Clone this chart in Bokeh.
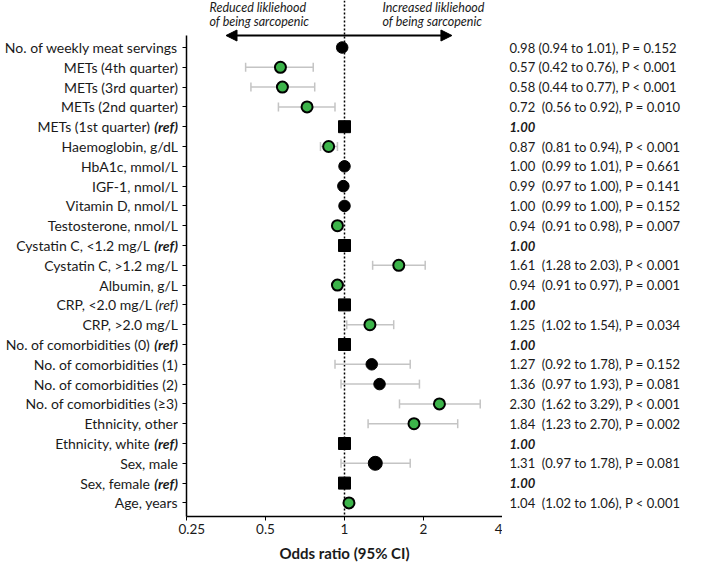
from bokeh.plotting import figure
from bokeh.layouts import row
from bokeh.models import (ColumnDataSource, Label, Whisker, TeeHead, Span, Arrow, NormalHead,
                          FixedTicker, Range1d, CustomLabelingPolicy)
from bokeh.core.properties import value
from bokeh.embed import file_html
from bokeh.resources import INLINE

# ---------------- data ----------------
labels = ["No. of weekly meat servings", "METs (4th quarter)", "METs (3rd quarter)",
          "METs (2nd quarter)", "METs (1st quarter)", "Haemoglobin, g/dL", "HbA1c, mmol/L",
          "IGF-1, nmol/L", "Vitamin D, nmol/L", "Testosterone, nmol/L", "Cystatin C, <1.2 mg/L",
          "Cystatin C, >1.2 mg/L", "Albumin, g/L", "CRP, <2.0 mg/L", "CRP, >2.0 mg/L",
          "No. of comorbidities (0)", "No. of comorbidities (1)", "No. of comorbidities (2)",
          "No. of comorbidities (\u22653)", "Ethnicity, other", "Ethnicity, white", "Sex, male",
          "Sex, female", "Age, years"]
odds = [0.98, 0.57, 0.58, 0.72, 1.00, 0.87, 1.00, 0.99, 1.00, 0.94, 1.00, 1.61, 0.94, 1.00,
        1.25, 1.00, 1.27, 1.36, 2.30, 1.84, 1.00, 1.31, 1.00, 1.04]
ci_low = [0.94, 0.42, 0.44, 0.56, None, 0.81, 0.99, 0.97, 0.99, 0.91, None, 1.28, 0.91, None,
          1.02, None, 0.92, 0.97, 1.62, 1.23, None, 0.97, None, 1.02]
ci_high = [1.01, 0.76, 0.77, 0.92, None, 0.94, 1.01, 1.00, 1.00, 0.98, None, 2.03, 0.97, None,
           1.54, None, 1.78, 1.93, 3.29, 2.70, None, 1.78, None, 1.06]
p_op = ["=", "<", "<", "=", None, "<", "=", "=", "=", "=", None, "<", "=", None,
        "=", None, "=", "=", "<", "=", None, "=", None, "<"]
p_val = ["0.152", "0.001", "0.001", "0.010", None, "0.001", "0.661", "0.141", "0.152", "0.007",
         None, "0.001", "0.001", None, "0.034", None, "0.152", "0.081", "0.001", "0.002", None,
         "0.081", None, "0.001"]
is_ref = [lo is None for lo in ci_low]
x_ticks = [0.25, 0.5, 1, 2, 4]
x_tick_labels = ["0.25", "0.5", "1", "2", "4"]
ref_tag = "(ref)"
ref_value = "1.00"
arrow_left_text = ["Reduced likliehood", "of being sarcopenic"]
arrow_right_text = ["Increased likliehood", "of being sarcopenic"]
x_title = "Odds ratio (95% CI)"

# ---------------- layout / style ----------------
W, H = 693, 566
WL = 178          # width of left label panel
AX = 8            # y-axis panel of the middle figure
PPD = 79          # px per doubling
WM = AX + 4 * PPD
WR = W - WL - WM
ROW0 = 47         # first row centre (px from top)
S = 19.8          # row spacing (px)
FB = 516          # frame bottom (px)
FONT = "Lato"
FS_L = "14px"
FS_R = "13px"
TXT = "#1a1a1a"
GREEN = "#3cb44a"
GREY = "#c4c4c4"
REFW = 28         # width reserved for " (ref)" (bold italic)
REFW_IT = 26      # width reserved for " (ref)" (italic)

n = len(labels)
y_end = (n - 1) + ROW0 / S
y_start = -(FB - (ROW0 + (n - 1) * S)) / S
def y_px(px):
    return y_end - px / S

ys = [n - 1 - i for i in range(n)]
yr = Range1d(y_start, y_end)

def side_fig(w):
    f = figure(width=w, height=H, x_range=Range1d(0, w), y_range=yr,
               x_axis_location=None, y_axis_location=None, min_border_left=0,
               min_border_right=0, min_border_top=0, min_border_bottom=H - FB,
               toolbar_location=None, output_backend="svg")
    f.outline_line_color = None
    f.grid.visible = False
    return f

# ---------------- middle (forest) figure ----------------
p = figure(width=WM, height=H, x_axis_type="log", x_range=Range1d(0.25, 4), y_range=yr,
           min_border_left=AX, min_border_right=0, min_border_top=0,
           min_border_bottom=H - FB, toolbar_location=None, output_backend="svg")
p.outline_line_color = None
p.grid.visible = False

xa = p.xaxis[0]
xa.ticker = FixedTicker(ticks=x_ticks)
xa.major_label_overrides = {t: l for t, l in zip(x_ticks, x_tick_labels)}
xa.minor_tick_line_color = None
xa.major_tick_out = 4
xa.major_tick_in = 0
xa.axis_line_width = 1.5
xa.axis_line_color = "black"
xa.major_tick_line_color = "black"
xa.major_label_text_font = FONT
xa.major_label_text_font_size = "13.5px"
xa.major_label_text_color = TXT
xa.major_label_standoff = 3
xa.axis_label = x_title
xa.axis_label_text_font = FONT
xa.axis_label_text_font_size = "15px"
xa.axis_label_text_font_style = "bold"
xa.axis_label_text_color = TXT
xa.axis_label_standoff = 7

ya = p.yaxis[0]
ya.ticker = FixedTicker(ticks=ys)
ya.major_label_text_font_size = "0px"
ya.major_label_policy = CustomLabelingPolicy(code="return []")
ya.major_label_standoff = 0
ya.minor_tick_line_color = None
ya.major_tick_out = 4
ya.major_tick_in = 0
ya.axis_line_width = 1.5
ya.axis_line_color = "black"
ya.major_tick_line_color = "black"
y_arrow = y_px(35)
ya.bounds = (y_start, y_arrow)

p.add_layout(Span(location=1, dimension="height", line_color="black", line_width=1.5,
                  line_dash="2 2", level="underlay"))
p.add_layout(Arrow(x_start=2 ** -1.5, x_end=2 ** 1.36, y_start=y_arrow, y_end=y_arrow,
                   line_width=2, line_color="black",
                   start=NormalHead(size=11, fill_color="black", line_color="black"),
                   end=NormalHead(size=11, fill_color="black", line_color="black")))
for k, t in enumerate(arrow_left_text):
    p.add_layout(Label(x=0.25, x_offset=23, y=y_px(7 + 14 * k), text=t, text_font=FONT,
                       text_font_size="12.5px", text_font_style="italic", text_color=TXT,
                       text_baseline="middle"))
for k, t in enumerate(arrow_right_text):
    p.add_layout(Label(x=1, x_offset=38, y=y_px(7 + 14 * k), text=t, text_font=FONT,
                       text_font_size="12.5px", text_font_style="italic", text_color=TXT,
                       text_baseline="middle"))

ci_idx = [i for i in range(n) if not is_ref[i]]
ci_src = ColumnDataSource(dict(y=[ys[i] for i in ci_idx], lo=[ci_low[i] for i in ci_idx],
                               hi=[ci_high[i] for i in ci_idx]))
p.add_layout(Whisker(source=ci_src, base="y", lower="lo", upper="hi", dimension="width",
                     line_color=GREY, line_width=1.5, level="underlay",
                     lower_head=TeeHead(size=9, line_color=GREY, line_width=1.5),
                     upper_head=TeeHead(size=9, line_color=GREY, line_width=1.5)))

sig = [i for i in ci_idx if float(p_val[i]) < 0.05]
ns = [i for i in ci_idx if float(p_val[i]) >= 0.05]
ref = [i for i in range(n) if is_ref[i]]
p.scatter(x=[odds[i] for i in sig], y=[ys[i] for i in sig], marker="circle", size=11,
          fill_color=GREEN, line_color="black", line_width=2)
p.scatter(x=[odds[i] for i in ns], y=[ys[i] for i in ns], marker="circle",
          size=[14 if labels[i] == "Sex, male" else 11.5 for i in ns],
          fill_color="black", line_color="black", line_width=1)
p.scatter(x=[odds[i] for i in ref], y=[ys[i] for i in ref], marker="square", size=12,
          fill_color="black", line_color="black", line_width=1)

# ---------------- left labels ----------------
left = side_fig(WL)
xl = WL - 0.5
crp_ref = [i for i in ref if labels[i].startswith("CRP")]
bold_ref = [i for i in ref if i not in crp_ref]
left.text(x=[xl] * len(ci_idx), y=[ys[i] for i in ci_idx], text=[labels[i] for i in ci_idx],
          text_align="right", text_baseline="middle", text_font=value(FONT),
          text_font_size=FS_L, text_color=TXT)
for idx, style, w in ((bold_ref, "bold italic", REFW), (crp_ref, "italic", REFW_IT)):
    left.text(x=[xl - w] * len(idx), y=[ys[i] for i in idx], text=[labels[i] for i in idx],
              text_align="right", text_baseline="middle", text_font=value(FONT),
              text_font_size=FS_L, text_color=TXT)
    left.text(x=[xl] * len(idx), y=[ys[i] for i in idx], text=[ref_tag] * len(idx),
              text_align="right", text_baseline="middle", text_font=value(FONT),
              text_font_size=FS_L, text_font_style=style, text_color=TXT)

# ---------------- right column ----------------
right = side_fig(WR)
right_txt = []
for i in ci_idx:
    sep = " " if i < 3 else "\u00a0 "
    right_txt.append(f"{odds[i]:.2f}{sep}({ci_low[i]:.2f} to {ci_high[i]:.2f}), P {p_op[i]} {p_val[i]}")
right.text(x=[7] * len(ci_idx), y=[ys[i] for i in ci_idx], text=right_txt,
           text_align="left", text_baseline="middle", text_font=value(FONT),
           text_font_size=FS_R, text_color=TXT)
right.text(x=[7] * len(ref), y=[ys[i] for i in ref], text=[ref_value] * len(ref),
           text_align="left", text_baseline="middle", text_font=value(FONT),
           text_font_size=FS_R, text_font_style="bold italic", text_color=TXT)

layout = row(left, p, right, spacing=0)
open("out.html", "w").write(file_html(layout, INLINE))
